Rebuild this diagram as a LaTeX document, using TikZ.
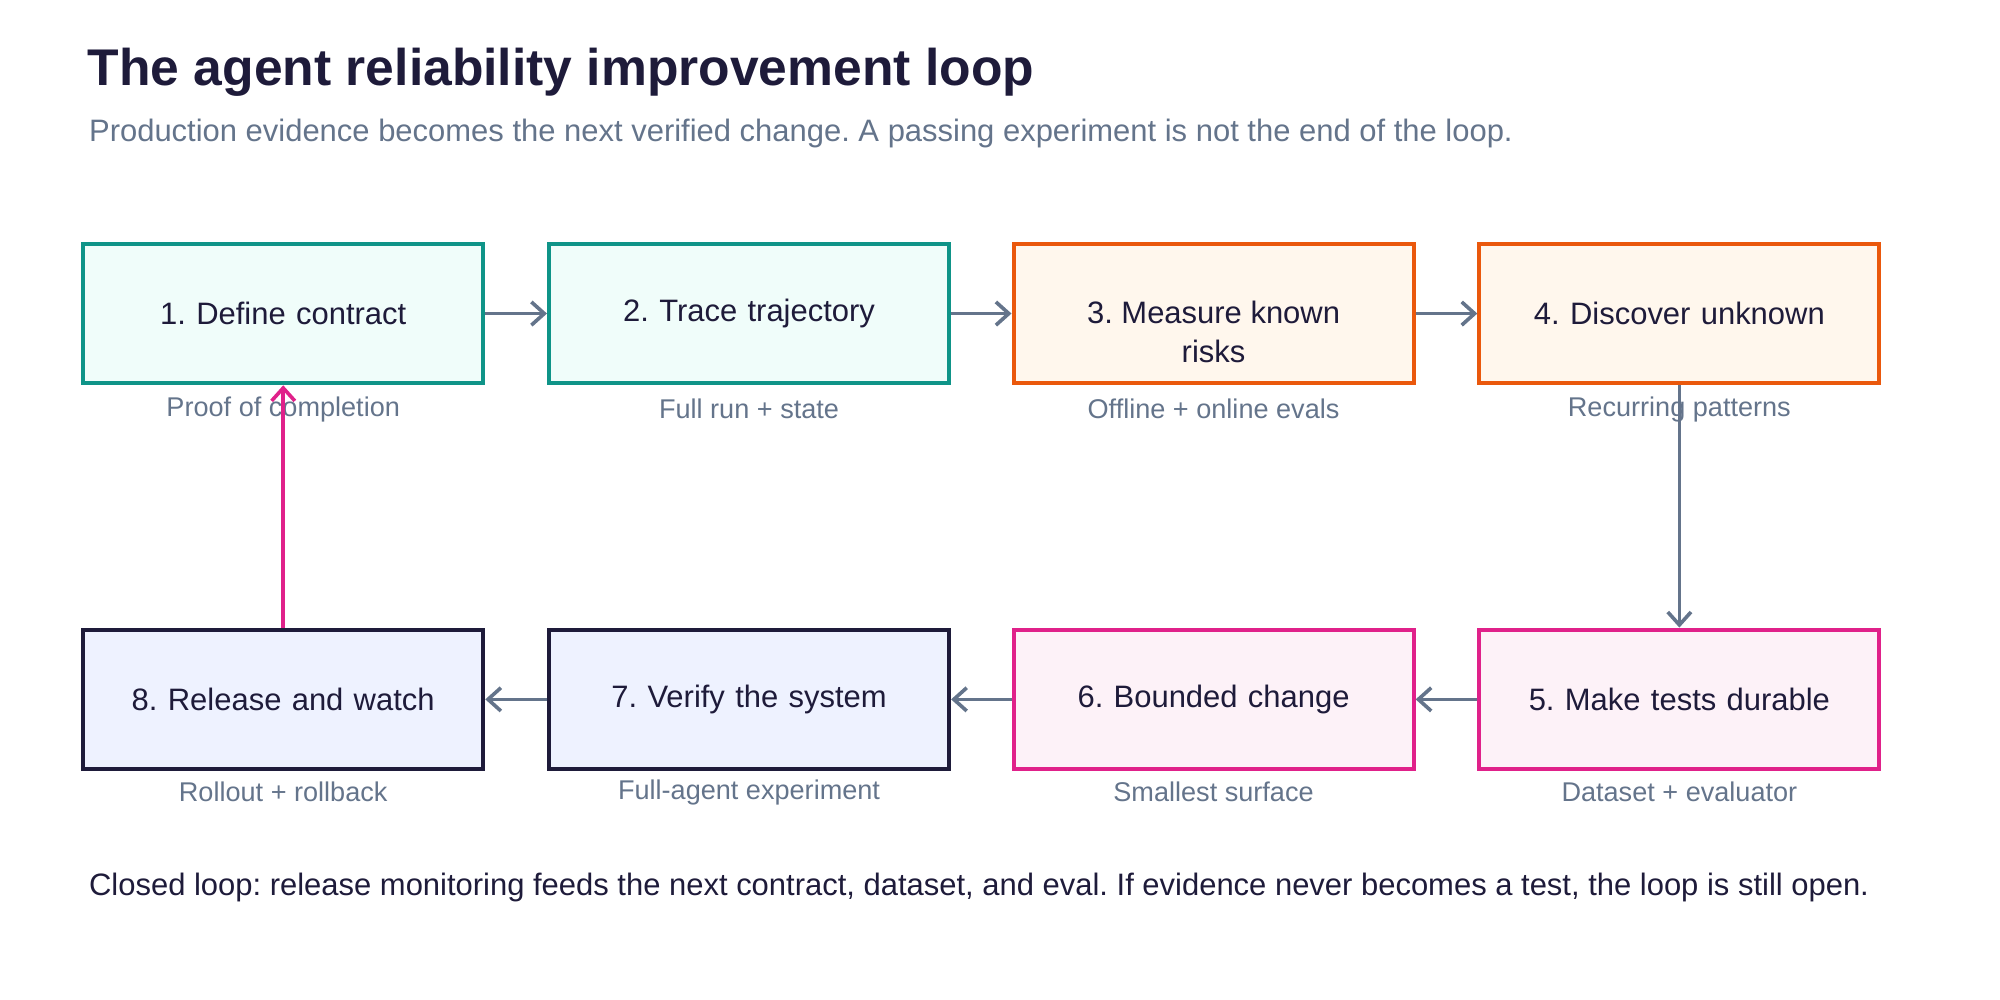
\documentclass[tikz,border=0pt]{standalone}
\usepackage{fontspec}
\setmainfont{Liberation Sans}
\usetikzlibrary{positioning,arrows.meta}
\definecolor{ink}{HTML}{1E1B3A}
\definecolor{muted}{HTML}{64748B}
\definecolor{tealc}{HTML}{0F9488}
\definecolor{tealf}{HTML}{F0FDFA}
\definecolor{orgc}{HTML}{EA580C}
\definecolor{orgf}{HTML}{FFF7ED}
\definecolor{pinkc}{HTML}{E0218A}
\definecolor{pinkf}{HTML}{FDF2F8}
\definecolor{navyc}{HTML}{1E1B3A}
\definecolor{navyf}{HTML}{EEF2FF}
\tikzset{
  stage/.style={draw, line width=1.6pt, minimum width=155pt, minimum height=54pt,
    text width=140pt, align=center, font=\fontsize{12}{15}\selectfont, text=ink},
  sub/.style={font=\fontsize{10.5}{12}\selectfont, text=muted},
  flow/.style={-{Straight Barb[length=5pt,width=9pt]}, line width=1.4pt, draw=muted},
}
\frenchspacing
\begin{document}
\begin{tikzpicture}[x=0.5pt,y=-0.5pt]
    \useasboundingbox (0,0) rectangle (1550,775);
    \node[anchor=base west, font=\bfseries\fontsize{20}{24}\selectfont, text=ink] (title) at (61,66) {The agent reliability improvement loop};
    \node[anchor=base west, font=\fontsize{12}{14}\selectfont, text=muted] (subtitle) at (62,110) {Production evidence becomes the next verified change. A passing experiment is not the end of the loop.};
    % top row
    \node[stage, draw=tealc, fill=tealf] (s1) at (219.5,243) {1. Define contract};
    \node[stage, draw=tealc, fill=tealf] (s2) at (580.5,243) {2. Trace trajectory};
    \node[stage, draw=orgc, fill=orgf, label={[font=\fontsize{12}{15}\selectfont, text=ink, align=center, yshift=-7pt]center:3. Measure known\\risks}] (s3) at (940.5,243) {};
    \node[stage, draw=orgc, fill=orgf] (s4) at (1301.5,243) {4. Discover unknown};
    % bottom row
    \node[stage, draw=pinkc, fill=pinkf] (s5) at (1301.5,542) {5. Make tests durable};
    \node[stage, draw=pinkc, fill=pinkf] (s6) at (940.5,542) {6. Bounded change};
    \node[stage, draw=navyc, fill=navyf] (s7) at (580.5,542) {7. Verify the system};
    \node[stage, draw=navyc, fill=navyf] (s8) at (219.5,542) {8. Release and watch};
    \node[sub] (l1) at (219.5,317) {Proof of completion};
    \node[sub] (l2) at (580.5,317) {Full run + state};
    \node[sub] (l3) at (940.5,317) {Offline + online evals};
    \node[sub] (l4) at (1301.5,317) {Recurring patterns};
    \node[sub] (l5) at (1301.5,614) {Dataset + evaluator};
    \node[sub] (l6) at (940.5,614) {Smallest surface};
    \node[sub] (l7) at (580.5,614) {Full-agent experiment};
    \node[sub] (l8) at (219.5,614) {Rollout + rollback};
    % connectors
    \draw[flow] (s1) -- (s2);
    \draw[flow] (s2) -- (s3);
    \draw[flow] (s3) -- (s4);
    \draw[flow] (s4) -- (s5);
    \draw[flow] (s5) -- (s6);
    \draw[flow] (s6) -- (s7);
    \draw[flow] (s7) -- (s8);
    \draw[flow, draw=pinkc] (s8) -- (s1);
    \node[anchor=base west, font=\fontsize{12}{14}\selectfont, text=ink] (footer) at (62,694) {Closed loop: release monitoring feeds the next contract, dataset, and eval. If evidence never becomes a test, the loop is still open.};
\end{tikzpicture}
\end{document}
